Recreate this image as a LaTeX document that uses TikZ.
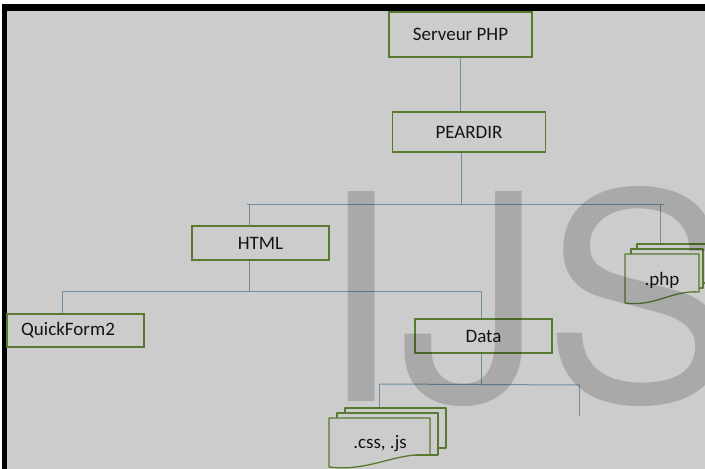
\documentclass[tikz,border=0pt]{standalone}
\usepackage{fontspec}
\setmainfont{Carlito}
\newfontfamily\wmfont{TeX Gyre Heros}
\definecolor{bg}{RGB}{204,204,204}
\definecolor{connc}{RGB}{112,142,162}
\definecolor{boxc}{RGB}{88,122,48}
\definecolor{txt}{RGB}{20,20,20}
\begin{document}
\begin{tikzpicture}[x=1pt,y=-1pt,
  box/.style={draw=boxc, line width=1.3pt, inner sep=0pt, font=\fontsize{19}{22}\selectfont, text=txt},
  conn/.style={draw=connc, line width=1pt},
  sheet/.style={draw=boxc, line width=1.3pt, fill=bg, line join=round},
  lbl/.style={font=\fontsize{19}{22}\selectfont, text=txt, inner sep=0pt}]
\useasboundingbox (0,0) rectangle (705,469);
\clip (0,0) rectangle (705,469);
\fill[white] (0,0) rectangle (705,469);
\fill[black] (2,4) rectangle (705,469);
\fill[bg] (7,11) rectangle (705,469);

% boxes
\node[box, minimum width=143pt, minimum height=45pt] (serveur) at (460.5,34.5) {Serveur PHP};
\node[box, minimum width=153pt, minimum height=40pt] (peardir) at (469,132) {PEARDIR};
\node[box, minimum width=137pt, minimum height=34pt] (html) at (260.5,243) {HTML};
\node[box, minimum width=137pt, minimum height=33pt] (quick) at (75.5,330.5) {};
\node[lbl, anchor=west] (quicktxt) at (21,330.5) {QuickForm2};
\node[box, minimum width=137pt, minimum height=34pt] (data) at (483.5,336) {Data};

% junction coordinates
\coordinate (j1) at (461,204);
\coordinate (b1l) at (247,204);
\coordinate (b1r) at (664,204);
\coordinate (htmltop) at (249,226);
\coordinate (php) at (660,244);
\coordinate (j2) at (249,291);
\coordinate (b2l) at (62,291);
\coordinate (b2r) at (481,291);
\coordinate (j3) at (481,384);
\coordinate (b3l) at (379,384);
\coordinate (b3r) at (579,385);
\coordinate (css) at (379,408);
\coordinate (loose) at (579,416);

% connectors
\draw[conn] (serveur.south) -- (serveur.south |- peardir.north);
\draw[conn] (peardir.south -| j1) -- (j1);
\draw[conn] (b1l) -- (b1r);
\draw[conn] (b1l -| htmltop) -- (htmltop);
\draw[conn] (b1l -| php) -- (php);
\draw[conn] (html.south -| j2) -- (j2);
\draw[conn] (b2l) -- (b2r);
\draw[conn] (b2l |- quick.north) -- (b2l);
\draw[conn] (b2r) -- (b2r |- data.north);
\draw[conn] (data.south -| j3) -- (j3);
\draw[conn] (b3l) -- (b3r);
\draw[conn] (b3l) -- (css);
\draw[conn] (b3r) -- (loose);

% .php multidocument
\draw[sheet] (637,244) rectangle (709,283);
\draw[sheet] (631,249) rectangle (703,288);
\draw[sheet] (625,254) -- (699,254) -- (699,292) .. controls (672,290) and (655,307) .. (625,303) -- cycle;
\node[lbl] (phplbl) at (662,280) {.php};

% .css multidocument
\draw[sheet] (345,408) rectangle (446,448);
\draw[sheet] (337,413) rectangle (438,455);
\draw[sheet] (329,418) -- (430,418) -- (430,455) .. controls (395,452) and (370,472) .. (329,467) -- cycle;
\node[lbl] (csslbl) at (380,444) {.css, .js};

% watermark
\node[anchor=base west, inner sep=0pt, font=\wmfont\fontsize{288}{288}\selectfont, text=black, text opacity=0.17] (wm) at (319,401) {IJS};
\end{tikzpicture}
\end{document}
